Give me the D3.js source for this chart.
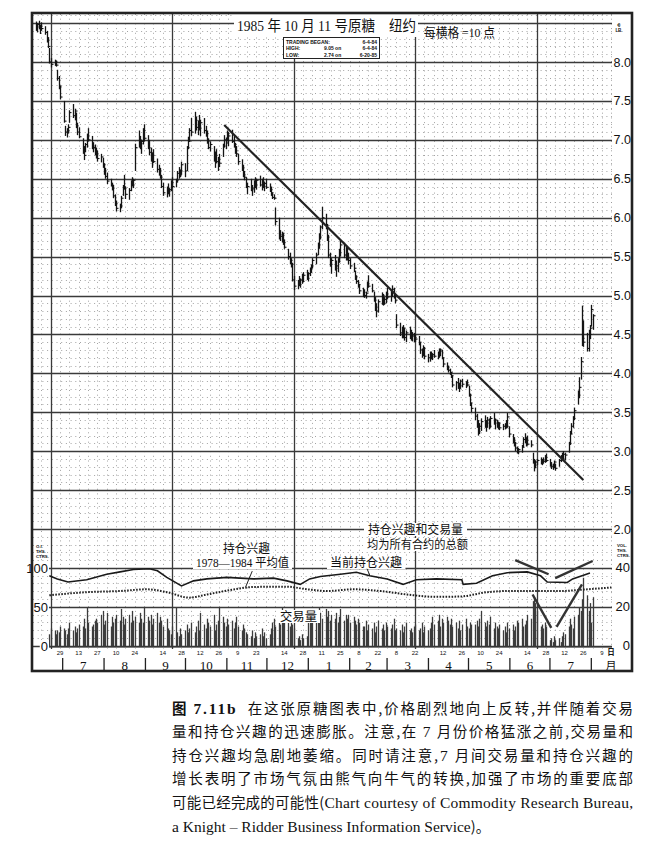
<!DOCTYPE html>
<html><head><meta charset="utf-8">
<script src="https://cdn.jsdelivr.net/npm/d3@7"></script>
<style>body{margin:0;background:#fff}</style>
</head><body>
<svg id="c" width="667" height="849"></svg>
<script>
// ---------------- DATA ----------------
const priceStart = "1984-06-11"; // first trading day (weekdays follow)
const priceHigh = [
852,850,853,848,851,846,840,832,818,805, 803,802,790,782,770,750,718,715,720,738,
746,740,735,722,716,702,692,696,708,715, 705,697,694,690,686,682,677,670,664,658,
650,645,642,630,622,618,628,642,655,640, 638,648,652,650,695,712,705,700,715,720,
706,700,690,684,688,676,668,664,655,645, 640,644,638,648,652,650,660,665,662,672,
670,692,704,715,728,736,730,725,732,726, 728,718,712,702,698,692,685,688,678,682,
695,706,703,712,710,713,706,696,692,682, 675,668,660,652,645,650,642,648,652,650,
654,650,652,646,650,644,640,632,630,613, 600,584,582,580,572,560,555,548,542,525,
520,525,522,528,530,533,530,536,540,548, 555,568,580,590,614,605,592,578,555,548,
552,545,548,560,570,568,565,562,555,548, 542,532,526,520,515,510,508,505,518,526,
515,505,498,490,495,504,502,498,505,510, 506,513,510,502,476,465,460,462,458,455,
460,456,453,452,450,448,440,432,436,434, 425,428,428,426,430,428,432,432,430,420,
414,410,406,402,397,390,394,388,392,393, 390,392,384,374,362,356,348,340,336,342,
346,340,344,342,345,349,342,340,338,337, 335,336,340,349,332,322,318,312,306,304,
308,318,323,318,320,314,298,290,288,290, 292,290,292,295,297,290,286,284,288,284,
290,295,298,300,298,312,326,336,345,356, 378,395,421,487,468,452,456,462,488,476];
const priceLow = [
840,838,842,836,840,835,825,818,798,793, 795,794,776,765,752,722,705,703,708,722,
728,725,715,706,702,682,674,684,690,698, 688,684,680,676,672,671,664,655,650,643,
640,635,625,615,608,607,612,628,636,624, 623,634,640,638,660,690,688,682,694,698,
688,680,672,664,670,658,654,650,638,628, 626,630,627,634,638,639,645,650,652,655,
652,660,688,698,705,708,712,706,712,705, 708,704,695,688,685,672,664,670,660,665,
678,690,688,698,692,696,690,682,678,668, 660,652,648,638,630,634,628,632,638,636,
640,635,638,634,637,633,628,624,623,590, 572,570,568,565,560,546,540,536,518,507,
508,512,510,515,518,520,518,525,529,535, 540,552,560,572,585,585,570,548,537,528,
532,524,530,542,550,548,545,545,540,534, 530,520,515,510,502,498,497,496,505,510,
504,492,480,472,478,488,487,488,490,495, 492,498,496,490,458,448,445,445,442,440,
444,442,441,440,440,436,425,420,422,418, 414,415,418,417,420,418,420,422,418,408,
404,401,398,394,382,378,380,376,380,382, 381,383,370,358,350,340,330,320,322,326,
330,325,330,328,330,334,328,330,328,327, 327,328,329,330,318,310,306,300,297,296,
298,305,310,306,307,305,284,274,278,282, 283,282,284,285,286,280,277,276,278,275,
280,286,288,289,288,298,308,322,330,340, 360,368,392,435,434,428,428,444,460,456];
const priceClose = [
845,848,844,846,843,838,828,820,800,797, 800,796,779,768,755,724,710,712,716,735,
731,737,718,710,704,686,680,694,705,700, 692,690,686,682,676,678,668,660,653,647,
642,638,628,618,612,615,625,640,638,630, 635,645,642,648,690,700,695,698,712,702,
690,684,676,680,672,662,660,652,640,632, 637,634,636,645,640,648,657,654,660,668,
660,690,698,712,710,725,716,720,715,722, 712,708,698,690,694,676,680,672,675,670,
692,700,696,708,705,698,694,686,682,672, 664,655,652,640,640,636,638,645,642,648,
642,646,640,644,639,636,632,626,625,595, 578,576,580,568,562,550,545,540,520,512,
518,514,520,518,526,522,528,534,538,545, 552,565,575,588,600,590,575,552,540,545,
535,538,544,555,565,552,560,548,545,538, 535,524,518,514,506,504,500,503,515,512,
506,494,485,480,492,500,490,495,502,498, 504,508,500,494,462,452,455,458,446,452,
448,450,448,446,444,440,430,426,432,422, 420,424,422,424,422,426,428,430,420,412,
408,404,401,397,385,388,382,384,390,386, 388,385,372,362,355,345,335,325,332,338,
334,336,340,332,342,336,340,334,336,330, 332,334,332,344,322,314,310,304,299,302,
305,315,312,314,309,308,288,282,286,288, 285,289,287,292,288,282,280,282,286,278,
288,292,290,296,295,310,322,332,342,352, 372,382,415,445,440,432,450,458,482,474];

const volumeStart = "1984-06-21";
const volume = [
6,9,8,6,8,7,10,9,8,6,9,12,8,10,7,9,
11,10,14,9,20,12,10,11,13,
14,12,16,18,11,13,17,10,15,12,14,
16,13,19,15,11,14,16,12,18,13,15,12,
17,14,12,20,15,13,16,11,14,17,12,15,13,10,14,9,
8,6,10,20,7,5,9,6,8,11,7,
9,12,7,10,13,8,17,11,9,14,12,10,16,8,11,
13,20,15,12,10,14,11,13,9,12,15,10,8,11,9,7,
6,5,8,4,7,5,6,9,5,7,4,6,
9,12,14,10,16,11,20,13,12,15,10,14,11,9,
4,5,3,6,4,5,
12,15,18,14,13,16,20,17,14,19,15,18,13,16,14,17,12,15,19,13,16,
14,16,12,15,13,11,14,12,10,
10,13,8,11,9,12,7,10,13,9,11,8,12,10,9,11,14,8,
9,8,11,7,10,12,8,9,7,10,11,8,9,12,7,10,8,9,
12,15,11,13,16,10,14,12,15,13,11,14,
10,12,9,13,8,11,14,10,9,12,11,
11,13,10,14,18,12,10,13,11,15,9,12,10,
9,11,8,10,7,12,9,11,8,10,13,
12,14,10,11,13,16,14,
23,25,22,18,
10,11,9,12,10,
3,4,2,5,3,4,
2,5,7,6,10,14,11,9,15,16,20,18,
24,35,26,18,22,12,25];

const oiDates = ["1984-06-21","1984-06-27","1984-07-05","1984-07-19","1984-08-03","1984-08-13","1984-08-23","1984-09-04","1984-09-10","1984-09-17","1984-09-28","1984-10-07","1984-10-17","1984-11-01","1984-11-21","1984-12-06","1984-12-16","1984-12-26","1985-01-02","1985-01-10","1985-01-25","1985-02-06","1985-02-16","1985-03-01","1985-03-13","1985-03-23","1985-04-07","1985-04-26","1985-04-27","1985-05-07","1985-05-19","1985-05-30","1985-06-14","1985-06-24","1985-06-29","1985-07-14","1985-07-18","1985-07-31"];
const oiValues = [90,86,82,85,92,95,98,99,96.5,88,77,83.5,86,88,86,87,83.5,79,86,89,92,94.5,90,86,79,85,86,85,79,80.5,90,94,95,90,82,81.5,86,93.5];

const avgOiDates = ["1984-06-21","1984-07-19","1984-08-13","1984-09-02","1984-09-17","1984-10-04","1984-10-17","1984-11-07","1984-11-21","1984-12-16","1984-12-31","1985-01-15","1985-02-04","1985-02-24","1985-03-16","1985-04-07","1985-04-25","1985-05-15","1985-05-30","1985-06-19","1985-07-09","1985-07-29","1985-08-16"];
const avgOiValues = [65,69,70.5,72.7,69,62,66,72.7,75.7,76,72.7,70.5,72.7,70.5,66,63,63.5,69,70.5,70.5,70.5,72.7,75];

const priceTicks = [8.0,7.5,7.0,6.5,6.0,5.5,5.0,4.5,4.0,3.5,3.0,2.5,2.0];
const oiTicks = [100,50,0];
const volTicks = [40,20,0];
const dayTicks = ["1984-06-29","1984-07-13","1984-07-27","1984-08-10","1984-08-24","1984-09-14","1984-09-28","1984-10-12","1984-10-26","1984-11-09","1984-11-23","1984-12-14","1984-12-28","1985-01-11","1985-01-25","1985-02-08","1985-02-22","1985-03-08","1985-03-22","1985-04-12","1985-04-26","1985-05-10","1985-05-24","1985-06-14","1985-06-28","1985-07-12","1985-07-26","1985-08-09"];
const monthStarts = ["1984-07-01","1984-08-01","1984-09-01","1984-10-01","1984-11-01","1984-12-01","1985-01-01","1985-02-01","1985-03-01","1985-04-01","1985-05-01","1985-06-01","1985-07-01","1985-08-01"];
const monthLabels = ["7","8","9","10","11","12","1","2","3","4","5","6","7"];
const trendLine = [["1984-10-30",7.19],["1985-07-26",2.63]];
const oiNotes = [[["1985-06-05",110],["1985-06-30",92]],[["1985-07-05",87],["1985-08-02",109]]];
const volNotes = [[["1985-06-18",26.4],["1985-07-02",9.3]],[["1985-07-06",9.8],["1985-07-25",31.6]]];

// caption: each line is a list of [text, isLatin] runs
const captionLines = [
 [["在这张原糖图表中,价格剧烈地向上反转,并伴随着交易",0]],
 [["量和持仓兴趣的迅速膨胀。注意,在 ",0],["7",1],[" 月份价格猛涨之前,交易量和",0]],
 [["持仓兴趣均急剧地萎缩。同时请注意,",0],["7",1],[" 月间交易量和持仓兴趣的",0]],
 [["增长表明了市场气氛由熊气向牛气的转换,加强了市场的重要底部",0]],
 [["可能已经完成的可能性(",0],["Chart courtesy of Commodity Research Bureau,",1]],
 [["a Knight – Ridder Business Information Service",1],[")。",0]]];

// ---------------- SCALES ----------------
const P = d3.timeParse("%Y-%m-%d");
const svg = d3.select("#c");
const x = d3.scaleTime().domain([P("1984-06-29"), P("1985-08-09")]).range([60, 602]);
const yPrice = d3.scaleLinear().domain([2, 8]).range([529, 62]);
const yOI = d3.scaleLinear().domain([0, 100]).range([646, 568]);
const yVol = d3.scaleLinear().domain([0, 40]).range([646, 568]);
const L = 33, R = 612, TOP = 14, BOT = 649;
const serif = "'Liberation Serif','Noto Sans CJK SC',serif";
const cjk = "'Liberation Serif','Noto Sans CJK SC',sans-serif";
const sans = "'Liberation Sans',Arial,sans-serif";

function weekdays(s, n){const o=[];let d=P(s);while(o.length<n){const w=d.getDay();if(w!==0&&w!==6)o.push(d);d=d3.timeDay.offset(d,1);}return o;}

svg.append("rect").attr("width",667).attr("height",849).attr("fill","#fff");

// ---------------- GRID ----------------
const g = svg.append("g");
const minor = d3.range(5, 87).filter(v => v % 5 !== 0).map(v => v/10);
g.selectAll(".hm").data(minor).join("line")
 .attr("x1",L).attr("x2",R).attr("y1",d=>Math.round(yPrice(d))+0.5).attr("y2",d=>Math.round(yPrice(d))+0.5)
 .attr("stroke","#999").attr("stroke-width",0.9).attr("stroke-dasharray","1,3.7");
const fridays = d3.timeFriday.range(P("1984-06-14"), P("1985-08-17"));
g.selectAll(".vm").data(fridays).join("line")
 .attr("x1",d=>Math.round(x(d))+0.5).attr("x2",d=>Math.round(x(d))+0.5).attr("y1",TOP).attr("y2",BOT)
 .attr("stroke","#999").attr("stroke-width",0.9).attr("stroke-dasharray","1,3.7");
const major = d3.range(1, 18).map(v => v/2);
g.selectAll(".hM").data(major).join("line")
 .attr("x1",L).attr("x2",R).attr("y1",d=>Math.round(yPrice(d))+0.5).attr("y2",d=>Math.round(yPrice(d))+0.5)
 .attr("stroke","#3a3a3a").attr("stroke-width",1.3);
const quarters = ["1984-06-22","1984-09-21","1984-12-21","1985-03-22","1985-06-21"].map(P);
g.selectAll(".vM").data(quarters).join("line")
 .attr("x1",d=>Math.round(x(d))+0.5).attr("x2",d=>Math.round(x(d))+0.5).attr("y1",TOP).attr("y2",BOT)
 .attr("stroke","#3a3a3a").attr("stroke-width",1.3);

// ---------------- PRICE BARS ----------------
const pDates = weekdays(priceStart, priceHigh.length);
const bars = svg.append("g").attr("stroke","#141414");
pDates.forEach((d,i)=>{
  const px = Math.round(x(d))+0.5;
  bars.append("line").attr("x1",px).attr("x2",px).attr("y1",yPrice(priceHigh[i]/100)).attr("y2",yPrice(priceLow[i]/100)).attr("stroke-width",1.3);
  bars.append("line").attr("x1",px).attr("x2",px+2).attr("y1",yPrice(priceClose[i]/100)).attr("y2",yPrice(priceClose[i]/100)).attr("stroke-width",1.1);
});
svg.append("line")
 .attr("x1",x(P(trendLine[0][0]))).attr("y1",yPrice(trendLine[0][1]))
 .attr("x2",x(P(trendLine[1][0]))).attr("y2",yPrice(trendLine[1][1]))
 .attr("stroke","#222").attr("stroke-width",2.2);

// ---------------- VOLUME & OI ----------------
const vDates = weekdays(volumeStart, volume.length);
const vg = svg.append("g").attr("stroke","#3c3c3c");
vDates.forEach((d,i)=>{
  const px = Math.round(x(d))+0.5;
  vg.append("line").attr("x1",px).attr("x2",px).attr("y1",yVol(0)).attr("y2",yVol(volume[i])).attr("stroke-width",1.3);
});
svg.append("line").attr("x1",49).attr("x2",R).attr("y1",yVol(0)+1).attr("y2",yVol(0)+1).attr("stroke","#333").attr("stroke-width",1.2);

const oiLine = d3.line().x(d=>x(P(d[0]))).y(d=>yOI(d[1])).curve(d3.curveMonotoneX);
svg.append("path").datum(avgOiDates.map((d,i)=>[d,avgOiValues[i]]))
 .attr("d",oiLine).attr("fill","none").attr("stroke","#222").attr("stroke-width",2).attr("stroke-dasharray","1.6,1.4");
svg.append("path").datum(oiDates.map((d,i)=>[d,oiValues[i]]))
 .attr("d",d3.line().x(d=>x(P(d[0]))).y(d=>yOI(d[1]))).attr("fill","none").attr("stroke","#1a1a1a").attr("stroke-width",1.6);

oiNotes.forEach(s=>svg.append("line").attr("x1",x(P(s[0][0]))).attr("y1",yOI(s[0][1])).attr("x2",x(P(s[1][0]))).attr("y2",yOI(s[1][1])).attr("stroke","#333").attr("stroke-width",2.4));
volNotes.forEach(s=>svg.append("line").attr("x1",x(P(s[0][0]))).attr("y1",yVol(s[0][1])).attr("x2",x(P(s[1][0]))).attr("y2",yVol(s[1][1])).attr("stroke","#333").attr("stroke-width",2.4));

// ---------------- LABELS ----------------
function label(txt, lx, ly, size, opts={}){
  const gg = svg.append("g");
  const t = gg.append("text").attr("x",lx).attr("y",ly).attr("font-size",size)
    .attr("font-family",opts.font||cjk).attr("fill","#111").text(txt);
  if(opts.len) t.attr("textLength",opts.len).attr("lengthAdjust","spacingAndGlyphs");
  if(opts.anchor) t.attr("text-anchor",opts.anchor);
  if(opts.weight) t.attr("font-weight",opts.weight);
  if(opts.bg){const b=t.node().getBBox();const p=opts.pad||1.5;
    gg.insert("rect","text").attr("x",b.x-p).attr("y",b.y+1).attr("width",b.width+2*p).attr("height",b.height-2).attr("fill","#fff");}
  return t;
}
svg.append("rect").attr("x",234).attr("y",14).attr("width",184).attr("height",23).attr("fill","#fff");
label("1985 年 10 月 11 号原糖",237,31,15,{len:138,font:serif});
label("纽约",389,31,15,{len:27,font:serif});
label("每横格 =10 点",424,37,13,{len:71,font:serif});
svg.append("rect").attr("x",283.5).attr("y",37.5).attr("width",96).attr("height",21).attr("fill","#fff").attr("stroke","#222").attr("stroke-width",1);
const info=[["TRADING BEGAN:","","6-4-84"],["HIGH:","9.05 on","6-4-84"],["LOW:","2.74 on","6-20-85"]];
info.forEach((r,i)=>{const yy=44+i*6.3;
  label(r[0],286,yy,5,{font:sans,weight:"bold"});
  if(r[1]) label(r[1],324,yy,5,{font:sans,weight:"bold"});
  label(r[2],377,yy,5,{font:sans,weight:"bold",anchor:"end"});
});
label("¢",619,27,6,{font:sans,weight:"bold",anchor:"middle"});
label("LB.",619,32,4.5,{font:sans,weight:"bold",anchor:"middle"});

priceTicks.forEach(t=>label(t.toFixed(1),631,yPrice(t)+4.5,12.5,{font:sans,anchor:"end"}));
[["O.I.",548],["THS.",553],["CTRS.",558]].forEach(a=>label(a[0],36,a[1],4.3,{font:sans,weight:"bold"}));
[["VOL.",547],["THS.",552],["CTRS.",557]].forEach(a=>label(a[0],617,a[1],4.3,{font:sans,weight:"bold"}));
oiTicks.forEach(t=>label(String(t),48,yOI(t)+5,13,{font:sans,anchor:"end",bg:true,pad:1}));
volTicks.forEach(t=>label(String(t),630,yVol(t)+4,13,{font:sans,anchor:"end"}));

label("持仓兴趣",223,553,12.5,{len:47,bg:true,pad:3});
label("1978—1984 平均值",196,567,12.5,{len:93,bg:true,pad:3,font:serif});
label("当前持仓兴趣",330,567,12.5,{len:72,bg:true,pad:3});
label("持仓兴趣和交易量",368,534,12.5,{len:95,bg:true,pad:4});
label("均为所有合约的总额",367,549,12,{len:101,bg:true,pad:3});
label("交易量",280,621,12.5,{len:37,bg:true,pad:3});
svg.append("line").attr("x1",x(P("1984-11-20"))).attr("y1",yOI(96)).attr("x2",x(P("1984-11-15"))).attr("y2",yOI(75.5)).attr("stroke","#222").attr("stroke-width",1);
svg.append("line").attr("x1",x(P("1985-02-14"))).attr("y1",yOI(99)).attr("x2",x(P("1985-02-16"))).attr("y2",yOI(91)).attr("stroke","#222").attr("stroke-width",1);

// date axis
dayTicks.forEach(d=>label(d3.timeFormat("%-d")(P(d)),x(P(d)),654.5,6,{font:sans,anchor:"middle"}));
monthStarts.forEach(d=>svg.append("line").attr("x1",x(P(d))).attr("x2",x(P(d))).attr("y1",658).attr("y2",670).attr("stroke","#222").attr("stroke-width",1.3));
monthLabels.forEach((m,i)=>{const a=P(monthStarts[i]),b=P(monthStarts[i+1]);
  label(m,(x(a)+x(b))/2,669.5,13,{font:serif,anchor:"middle"});});
label("日",611,655,7.5,{font:cjk,anchor:"middle",weight:"bold"});
label("月",611,669.5,11,{font:cjk,anchor:"middle"});

svg.append("rect").attr("x",32).attr("y",13).attr("width",600).attr("height",658).attr("fill","none").attr("stroke","#222").attr("stroke-width",2.6);

// caption
const capX = 172, capW = 461, capY0 = 713.5, capDY = 23.6;
captionLines.forEach((runs,i)=>{
  const t = svg.append("text").attr("x",capX).attr("y",capY0+capDY*i).attr("font-size",14.5).attr("fill","#111")
    .attr("font-family","'Noto Sans CJK SC',sans-serif");
  if(i===0){
    t.append("tspan").attr("font-weight","bold").text("图 ");
    t.append("tspan").attr("font-weight","bold").attr("font-family","'Liberation Serif',serif").attr("font-size",15.5).text("7.11b");
    t.append("tspan").text("\u00a0\u00a0");
  }
  runs.forEach(r=>{const s=t.append("tspan").text(r[0]); if(r[1]) s.attr("font-family","'Liberation Serif',serif").attr("font-size",15.5);});
  if(i<5) t.attr("textLength",capW).attr("lengthAdjust","spacing");
});
</script>
</body></html>
